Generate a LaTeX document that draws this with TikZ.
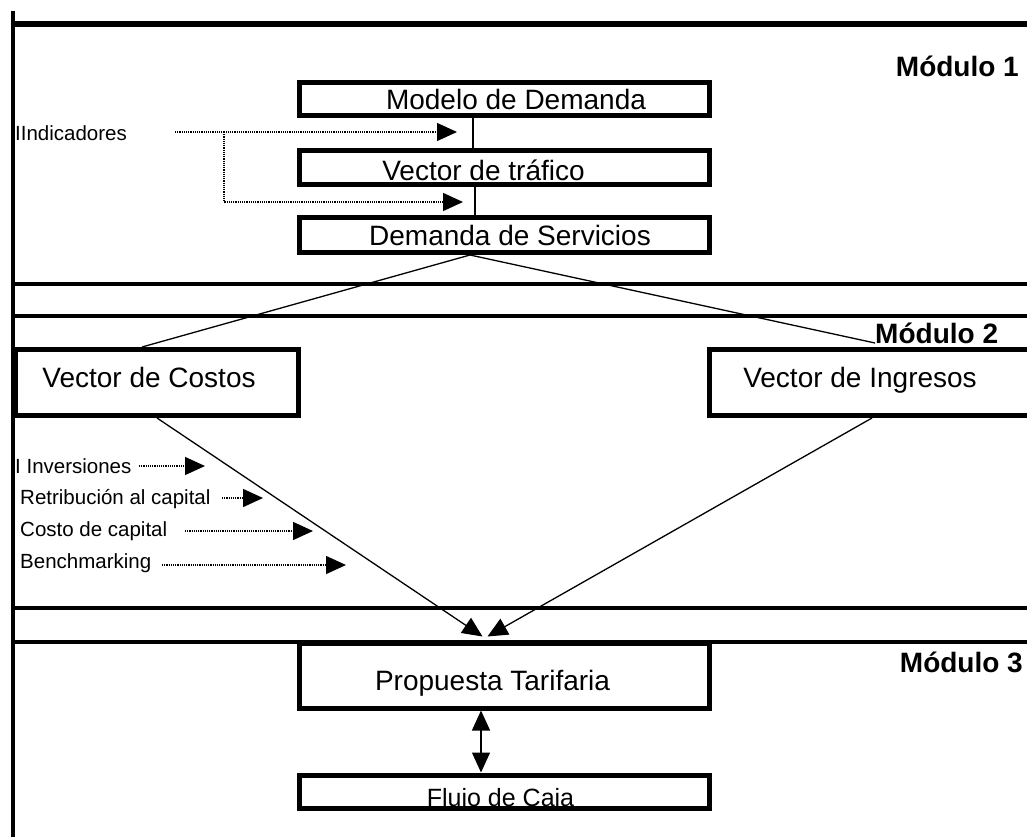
\documentclass[tikz,border=0pt]{standalone}
\usepackage{fontspec}
\setmainfont{Liberation Sans}
\usetikzlibrary{arrows.meta}
\begin{document}
\begin{tikzpicture}[x=1pt,y=-1pt,
  box/.style={draw,line width=5pt,rectangle,inner sep=0pt},
  big/.style={inner sep=0pt,anchor=base,font=\fontsize{28}{30}\selectfont},
  small/.style={inner sep=0pt,anchor=base west,font=\fontsize{20.5}{22}\selectfont},
  modl/.style={inner sep=0pt,font=\fontsize{28}{30}\selectfont\bfseries},
  sep/.style={line width=3.2pt},
  conn/.style={line width=1.3pt},
  dotarrow/.style={line width=1.4pt,dash pattern=on 1.2pt off 1pt,-{Triangle[length=20pt,width=18pt]}},
  solarrow/.style={line width=1.3pt,-{Triangle[length=20pt,width=18pt]}}
]
\useasboundingbox (0,0) rectangle (1027,837);
\fill[white] (0,0) rectangle (1027,837);

% frame lines
\draw[line width=4pt] (13,11) -- (13,837);
\draw[line width=5.5pt] (11,24) -- (1030,24);
\draw[sep] (13,284) -- (1030,284);
\draw[sep] (13,316) -- (1030,316);
\draw[sep] (13,608) -- (1030,608);
\draw[sep] (13,642) -- (1030,642);

% module labels
\node[modl,anchor=base east] (m1) at (1019,77) {Módulo 1};
\node[modl,anchor=base west] (m2) at (875,343) {Módulo 2};
\node[modl,anchor=base east] (m3) at (1023,672) {Módulo 3};

% module 1 boxes
\node[box,minimum width=409.5pt,minimum height=33pt] (b1) at (504.25,99) {};
\node[box,minimum width=409.5pt,minimum height=34pt] (b2) at (504.25,167.5) {};
\node[box,minimum width=409.5pt,minimum height=35pt] (b3) at (504.25,235) {};
\node[big] (t1) at (516,110) {Modelo de Demanda};
\node[big] (t2) at (483.5,180) {Vector de tráfico};
\node[big] (t3) at (510,245) {Demanda de Servicios};

\draw[conn] ([xshift=-31.25pt]b1.south) -- ([xshift=-31.25pt]b2.north);
\draw[conn] ([xshift=-29.25pt]b2.south) -- ([xshift=-29.25pt]b3.north);

% indicadores
\node[small] (ind) at (15,141) {IIndicadores};
\coordinate (i0) at (175,132);
\coordinate (ib) at (224,132);
\coordinate (i1) at (457,132);
\coordinate (i2) at (463,202);
\draw[dotarrow] (i0) -- (i1);
\draw[dotarrow] (ib) |- (i2);

% module 2 boxes
\node[box,minimum width=283pt,minimum height=66pt] (cost) at (156.5,382.5) {};
\node[box,minimum width=336pt,minimum height=66pt] (ingr) at (877,382.5) {};
\node[big] (tc) at (149,387) {Vector de Costos};
\node[big] (ti) at (860,387) {Vector de Ingresos};

\draw[conn] ([xshift=-34.25pt]b3.south) -- ([xshift=-14.5pt]cost.north);
\draw[conn] ([xshift=-34.25pt]b3.south) -- (m2.base west);

% inputs to costs
\node[small] (inv) at (15,473) {I Inversiones};
\node[small] (ret) at (20,504) {Retribución al capital};
\node[small] (cdc) at (20,536) {Costo de capital};
\node[small] (ben) at (20,568) {Benchmarking};
\coordinate (a1s) at (139,466); \coordinate (a1e) at (205,466);
\coordinate (a2s) at (222,498); \coordinate (a2e) at (263,498);
\coordinate (a3s) at (185,531); \coordinate (a3e) at (313,531);
\coordinate (a4s) at (162,565); \coordinate (a4e) at (346,565);
\draw[dotarrow] (a1s) -- (a1e);
\draw[dotarrow] (a2s) -- (a2e);
\draw[dotarrow] (a3s) -- (a3e);
\draw[dotarrow] (a4s) -- (a4e);

% module 3
\node[box,minimum width=410pt,minimum height=65pt] (prop) at (504.5,675.5) {};
\node[big] (tp) at (492.5,690) {Propuesta Tarifaria};

\begin{scope}
\clip (0,0) rectangle (1027,805.5);
\node[big,font=\fontsize{25}{27}\selectfont] (tf) at (500.5,806) {Flujo de Caja};
\end{scope}
\node[box,minimum width=410pt,minimum height=33pt] (flujo) at (504.5,791.5) {};

\draw[solarrow] ([xshift=0.5pt]cost.south) -- ([xshift=-22pt,yshift=4pt]prop.north);
\draw[solarrow] ([xshift=-5pt]ingr.south) -- ([xshift=-17pt,yshift=4pt]prop.north);
\draw[solarrow,{Triangle[length=20pt,width=18pt]}-{Triangle[length=20pt,width=18pt]}] ([xshift=-23.5pt]prop.south) -- ([xshift=-23.5pt]flujo.north);
\end{tikzpicture}
\end{document}
